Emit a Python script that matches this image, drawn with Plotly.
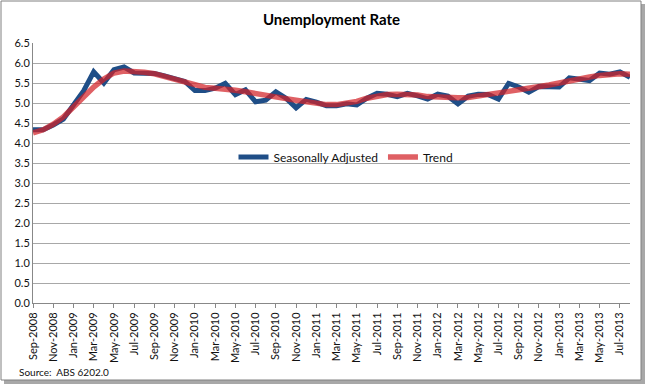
import plotly.graph_objects as go

months = ["Sep-2008","Oct-2008","Nov-2008","Dec-2008","Jan-2009","Feb-2009","Mar-2009","Apr-2009","May-2009","Jun-2009","Jul-2009","Aug-2009",
          "Sep-2009","Oct-2009","Nov-2009","Dec-2009","Jan-2010","Feb-2010","Mar-2010","Apr-2010","May-2010","Jun-2010","Jul-2010","Aug-2010",
          "Sep-2010","Oct-2010","Nov-2010","Dec-2010","Jan-2011","Feb-2011","Mar-2011","Apr-2011","May-2011","Jun-2011","Jul-2011","Aug-2011",
          "Sep-2011","Oct-2011","Nov-2011","Dec-2011","Jan-2012","Feb-2012","Mar-2012","Apr-2012","May-2012","Jun-2012","Jul-2012","Aug-2012",
          "Sep-2012","Oct-2012","Nov-2012","Dec-2012","Jan-2013","Feb-2013","Mar-2013","Apr-2013","May-2013","Jun-2013","Jul-2013","Aug-2013"]

seasonally_adjusted = [4.33,4.33,4.45,4.60,4.95,5.30,5.78,5.50,5.83,5.90,5.75,5.75,
                       5.74,5.68,5.62,5.54,5.31,5.31,5.37,5.49,5.21,5.33,5.03,5.07,
                       5.28,5.12,4.88,5.09,5.02,4.93,4.93,4.98,4.95,5.12,5.24,5.22,
                       5.16,5.24,5.18,5.10,5.22,5.17,4.98,5.17,5.22,5.21,5.10,5.49,
                       5.40,5.27,5.41,5.41,5.40,5.63,5.60,5.56,5.75,5.72,5.78,5.64]

trend = [4.25,4.33,4.47,4.65,4.90,5.15,5.40,5.60,5.75,5.80,5.80,5.77,
         5.73,5.66,5.58,5.50,5.43,5.39,5.37,5.36,5.32,5.28,5.23,5.19,
         5.15,5.11,5.07,5.03,4.99,4.96,4.96,4.99,5.04,5.12,5.18,5.21,
         5.22,5.22,5.20,5.16,5.14,5.13,5.13,5.14,5.17,5.20,5.24,5.29,
         5.33,5.36,5.41,5.45,5.50,5.56,5.60,5.65,5.69,5.72,5.73,5.72]

y_ticks = [0.0,0.5,1.0,1.5,2.0,2.5,3.0,3.5,4.0,4.5,5.0,5.5,6.0,6.5]

W, H = 646, 387
L, R, T, B = 33, 630, 43, 303

def px(x):
    return (x - L) / (R - L)

def py(y):
    return (B - y) / (B - T)

font = "Lato, 'Open Sans', sans-serif"

fig = go.Figure()
fig.add_trace(go.Scatter(x=months, y=seasonally_adjusted, mode="lines", name="Seasonally Adjusted",
                         line=dict(color="#1F4E87", width=5)))
fig.add_trace(go.Scatter(x=months, y=trend, mode="lines", name="Trend",
                         line=dict(color="rgba(210,35,40,0.72)", width=5.5)))

shapes = [
    dict(type="rect", xref="paper", yref="paper", x0=px(4), x1=px(645), y0=py(4), y1=py(384),
         fillcolor="#a8a8a8", line=dict(width=0), layer="below"),
    dict(type="rect", xref="paper", yref="paper", x0=px(1), x1=px(641), y0=py(1), y1=py(380),
         fillcolor="white", line=dict(color="#808080", width=1), layer="below"),
]

fig.update_layout(
    width=W, height=H,
    margin=dict(l=L, r=W - R, t=T, b=H - B),
    paper_bgcolor="white", plot_bgcolor="white",
    font=dict(family=font, color="#222", size=11),
    title=dict(text="<b>Unemployment Rate</b>", x=0.5, xref="paper", xanchor="center",
               y=1 - 20 / H, yanchor="middle", font=dict(size=15, color="#000", family=font)),
    showlegend=True,
    legend=dict(orientation="h", x=px(346), y=py(157), xanchor="center", yanchor="middle",
                bgcolor="rgba(0,0,0,0)", font=dict(size=12, color="#111"), itemwidth=30,
                tracegroupgap=0),
    shapes=shapes,
    annotations=[dict(text="Source:  ABS 6202.0", xref="paper", yref="paper", x=px(17), y=py(372),
                      xanchor="left", yanchor="middle", showarrow=False,
                      font=dict(size=10, color="#111", family=font))],
)

fig.update_xaxes(type="category", range=[0, len(months) - 1], tickmode="array",
                 tickvals=months[::2], ticktext=months[::2], tickangle=-90,
                 ticks="outside", ticklen=4, tickcolor="#888", showgrid=False,
                 showline=True, linecolor="#888", linewidth=1,
                 tickfont=dict(size=11, color="#111"))
fig.update_yaxes(range=[0, 6.5], tickmode="array", tickvals=y_ticks,
                 ticktext=[f"{v:.1f}" for v in y_ticks], showgrid=True,
                 gridcolor="#a8a8a8", gridwidth=1, showline=True, linecolor="#888",
                 zeroline=False, ticks="", tickfont=dict(size=11, color="#111"))

fig.write_html("out.html", config={"displayModeBar": False},
               post_script="document.body.style.margin='0';document.body.style.overflow='hidden';")
